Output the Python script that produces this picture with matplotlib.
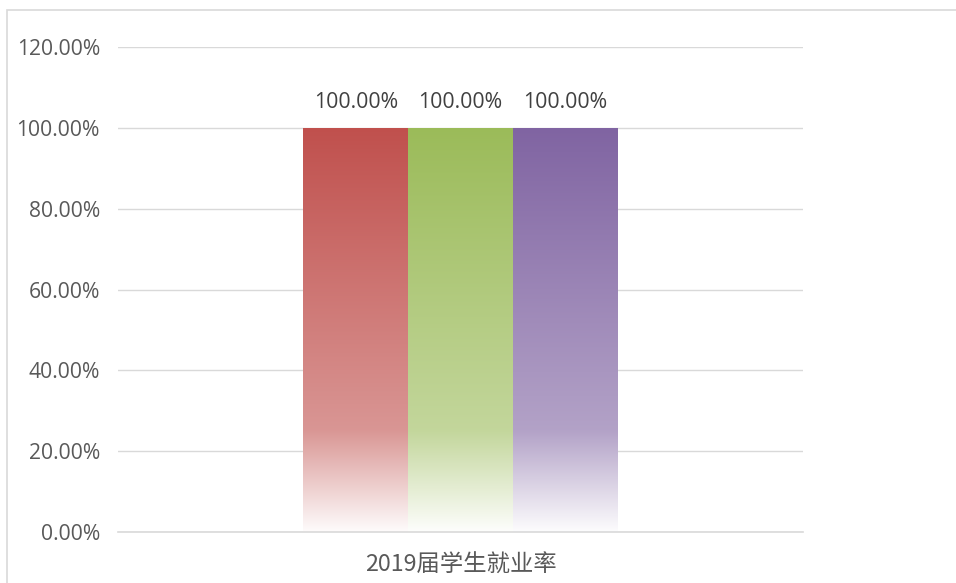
import numpy as np
import matplotlib.pyplot as plt
from matplotlib.patches import Rectangle
from matplotlib.colors import to_rgb

plt.rcParams['font.family'] = ['Open Sans', 'Noto Sans CJK SC', 'DejaVu Sans']

# data
category = "2019届学生就业率"
series_names = ["A", "B", "C"]
values = [1.0, 1.0, 1.0]
colors = ["#C0504D", "#9BBB59", "#8064A2"]
yticks = [0, 0.2, 0.4, 0.6, 0.8, 1.0, 1.2]


def gradient_image(color, n=256):
    # top: full colour, fades to white at the bottom
    t = np.linspace(0, 1, n)
    w = np.interp(t, [0.0, 0.75, 1.0], [1.0, 0.6, 0.02])
    c = np.array(to_rgb(color))
    rgb = w[:, None] * c[None, :] + (1 - w[:, None]) * np.ones(3)[None, :]
    return rgb[:, None, :]


fig = plt.figure(figsize=(9.56, 5.83), dpi=100)
ax = fig.add_axes([118 / 956, 1 - 532 / 583, (803 - 118) / 956, (532 - 47) / 583])

# outer frame (only top and left visible in the picture)
fig.patches.append(Rectangle((7 / 956, -0.2), 1.2, 1.2 - 10 / 583,
                             transform=fig.transFigure, fill=False,
                             edgecolor="#D9D9D9", lw=1.2, zorder=0))

width = 0.1528
offsets = (np.arange(len(values)) - (len(values) - 1) / 2) * width

for off, v, col in zip(offsets, values, colors):
    bar = ax.bar(off, v, width=width, color="none", edgecolor="none", zorder=3)[0]
    im = ax.imshow(gradient_image(col), extent=(off - width / 2, off + width / 2, 0, v),
                   aspect="auto", interpolation="bilinear", zorder=3)
    im.set_clip_path(bar)
    ax.annotate(f"{v * 100:.2f}%", (off, v), xytext=(0, 11), textcoords="offset points",
                ha="center", va="bottom", fontsize=15.3, color="#404040")

ax.axhline(0, color="#D9D9D9", lw=1.2, zorder=4, clip_on=False)

ax.set_xlim(-0.5, 0.5)
ax.set_ylim(0, 1.2)
ax.set_yticks(yticks)
ax.set_yticklabels([f"{y * 100:.2f}%" for y in yticks])
ax.set_xticks([0])
ax.set_xticklabels([category], family=['Noto Sans CJK SC', 'DejaVu Sans'])
ax.tick_params(axis="y", length=0, pad=13, labelsize=15.2, labelcolor="#595959")
ax.tick_params(axis="x", length=0, pad=16, labelsize=16.8, labelcolor="#595959")
ax.grid(axis="y", color="#D9D9D9", lw=1, zorder=0)
ax.set_axisbelow(True)
for s in ax.spines.values():
    s.set_visible(False)

fig.savefig("out.png", dpi=100)
